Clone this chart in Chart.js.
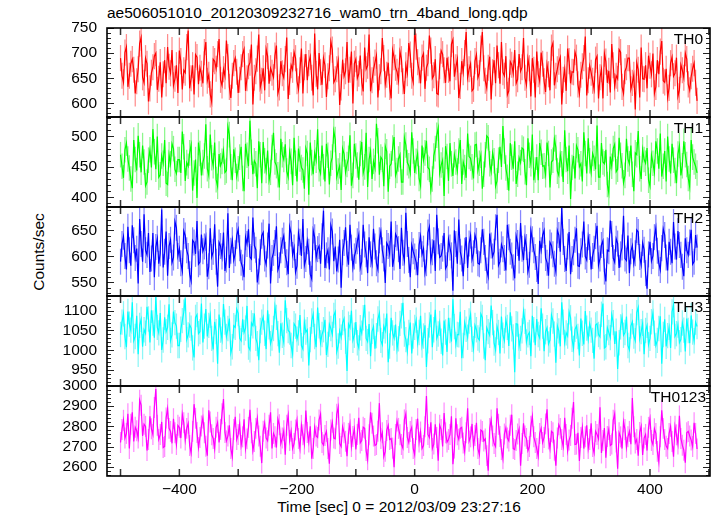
<!DOCTYPE html>
<html><head><meta charset="utf-8">
<script src="https://cdn.jsdelivr.net/npm/chart.js@4/dist/chart.umd.min.js"></script>
<style>
html,body{margin:0;padding:0;background:#fff;}
#wrap{position:relative;width:717px;height:516px;overflow:hidden;font-family:"Liberation Sans",Arial,Helvetica,sans-serif;}
#wrap canvas{position:absolute;left:0;}
.txt{position:absolute;font-size:15.5px;line-height:15.5px;white-space:nowrap;color:#000;}
</style></head><body>
<div id="wrap">
<div class="txt" style="left:107px;top:5px;">ae506051010_20120309232716_wam0_trn_4band_long.qdp</div>
<div class="txt" style="left:39px;top:252px;transform:translate(-50%,-50%) rotate(-90deg);">Counts/sec</div>
<div class="txt" style="left:399px;top:499px;transform:translateX(-50%);">Time [sec] 0 = 2012/03/09 23:27:16</div>
</div>
<script>
// ---- data ----
// bins: "a" values at tStart + k*tStep, "b" values at the half-step in between
const tStart = -500, tStep = 5;
const panelNames = ['TH0', 'TH1', 'TH2', 'TH3', 'TH0123'];
const th0a = [
690,642,712,655,688,620,668,731,641,679,630,672,700,649,612,686,712,660,636,676,
705,628,661,745,650,618,692,671,640,722,657,603,684,698,647,668,725,633,655,690,
621,672,708,650,681,598,664,737,645,626,694,670,652,715,632,660,688,609,676,702,
644,666,620,698,680,651,739,628,662,690,613,670,707,648,685,632,654,722,667,600,
688,659,642,711,675,624,667,695,652,730,638,681,610,692,663,703,644,676,720,655,
748,682,640,699,671,735,650,688,618,705,666,691,644,727,672,611,684,700,652,679,
629,697,660,742,645,671,608,686,715,639,662,694,625,677,706,648,664,730,637,670,
690,612,658,701,644,677,626,720,655,683,598,668,709,640,662,691,619,674,733,646,
661,628,694,652,610,683,665,718,634,649,702,620,672,690,641,588,667,711,648,630,
675,699,633,658,724,642,612,680,654,691,627,666,700,638,654,680,605];
const th0b = [
655,701,633,679,667,644,719,652,690,604,661,694,627,682,658,640,673,706,649,621,
684,666,712,630,676,697,638,659,702,645,618,688,669,728,636,654,692,611,680,663,
647,698,625,674,717,651,689,632,670,708,639,661,695,620,684,651,731,643,667,690,
628,709,672,646,693,616,659,700,637,676,654,723,642,668,597,687,664,641,703,679,
650,695,624,668,737,646,681,612,664,690,657,633,706,671,645,688,619,660,697,642,
713,666,691,629,680,705,656,620,674,698,641,667,718,653,688,635,662,742,668,625,
684,651,709,670,631,693,662,640,676,722,655,617,683,660,640,698,672,651,689,614,
667,703,644,679,623,658,711,636,668,692,647,625,684,663,702,638,657,690,616,675,
645,687,610,668,699,641,622,676,655,707,633,664,690,628,657,681,612,649,676,695,
658,620,686,703,645,669,631,692,660,614,677,651,688,626,669,641];
const th1a = [
470,432,489,448,415,462,501,441,458,425,478,512,446,433,468,494,421,455,480,439,
462,508,427,451,486,440,399,472,457,520,436,465,490,418,452,476,444,503,428,461,
447,483,410,469,526,438,455,492,423,460,477,441,506,452,416,470,487,433,459,498,
426,463,445,481,404,457,473,512,439,450,488,421,466,495,443,412,471,454,502,436,
468,429,491,450,417,476,459,521,437,462,484,409,455,499,444,470,425,486,452,507,
440,472,419,461,493,446,430,480,514,453,402,467,489,435,458,476,422,449,505,464,
431,487,456,414,470,498,442,460,427,483,517,448,411,466,492,438,457,479,420,469,
503,445,428,474,452,490,416,461,482,436,455,510,443,397,468,485,450,426,472,497,
441,464,518,433,458,478,407,451,487,446,469,424,496,455,438,473,509,430,462,481,
418,456,492,447,434,476,500,439,461,423,485,452,470,431,494,458,440];
const th1b = [
451,478,463,430,494,444,470,485,419,461,449,475,500,437,456,423,470,488,446,462,
440,483,457,473,411,462,490,436,468,447,503,452,429,471,459,441,516,450,479,434,
466,431,488,451,474,460,415,470,491,444,428,482,458,437,496,462,443,475,420,456,
480,449,414,472,490,438,461,447,485,426,469,456,509,433,452,480,441,464,419,488,
453,472,440,506,462,430,448,493,466,418,475,451,481,436,463,425,498,457,440,476,
459,431,485,473,449,412,468,502,440,461,484,427,455,470,443,494,458,432,467,450,
486,444,469,438,501,455,473,418,461,450,476,433,489,447,422,465,481,442,497,455,
428,466,489,451,437,472,458,496,443,470,425,462,485,449,431,478,455,507,439,460,
472,446,433,489,455,421,467,480,442,498,452,436,463,485,410,470,447,478,456,428,
469,441,476,505,451,426,463,488,444,471,436,492,454,417,466,451];
const th2a = [
590,638,575,612,660,597,548,624,681,603,570,645,618,586,690,609,563,632,598,655,
615,572,640,601,553,627,668,589,610,636,581,599,662,542,620,646,594,578,631,606,
652,588,560,624,599,675,613,571,640,596,621,548,607,658,583,630,603,566,644,617,
582,628,672,595,609,557,637,614,586,688,602,575,648,619,594,540,626,605,661,579,
611,642,590,623,568,604,653,587,631,612,549,620,667,598,636,576,607,684,593,622,
600,564,639,615,587,657,608,572,629,601,645,583,617,534,624,671,596,611,578,640,
606,630,585,652,597,561,621,609,680,590,614,573,637,602,558,626,664,593,618,584,
633,599,547,612,650,588,627,604,571,641,694,595,619,566,608,654,581,623,600,637,
575,615,659,596,630,552,610,643,589,625,604,678,592,568,621,606,647,584,613,538,
628,601,655,587,616,641,573,609,666,594,622,580,635,603,651,590,617];
const th2b = [
624,601,657,582,631,615,672,590,612,645,596,560,634,606,579,648,620,588,667,601,
587,649,612,566,631,605,585,642,619,561,654,609,590,627,600,572,683,611,593,640,
616,579,637,652,595,621,550,608,646,585,663,597,626,574,612,640,589,657,603,570,
645,601,583,629,566,650,597,620,639,578,612,660,591,571,632,608,656,584,617,600,
629,578,661,604,637,587,619,575,648,596,626,605,580,643,614,655,592,624,560,610,
589,622,604,569,646,592,631,680,598,615,577,633,602,650,586,609,562,637,625,594,
641,587,612,628,573,644,600,656,583,623,597,661,609,579,639,592,615,635,571,650,
612,576,630,641,597,563,621,586,650,609,628,572,647,595,632,582,610,667,593,618,
601,639,583,622,571,612,669,597,634,578,617,596,640,610,587,651,599,626,568,604,
591,637,611,574,653,598,628,587,619,649,603,562,612,627,585,641];
const th3a = [
1040,1092,1008,1066,1121,1035,990,1078,1052,1110,1020,1069,1135,1044,1001,1083,1058,1025,1098,1061,
1012,1075,1131,1039,1056,982,1090,1047,1020,1104,1063,1030,1072,966,1051,1117,1035,1080,1009,1058,
1093,1024,1045,1112,1001,1062,1030,975,1071,1043,1101,1017,1055,1083,994,1038,1126,1050,1012,1067,
1028,1089,1003,1046,962,1074,1035,1108,1019,1052,988,1066,1040,1097,1011,1033,1080,948,1057,1025,
1071,1006,1043,1115,1022,985,1060,1037,1094,1014,1049,970,1082,1031,1003,1068,1120,1027,1045,992,
1058,1019,1087,1036,958,1064,1008,1102,1041,1023,1075,996,1050,1129,1015,1039,980,1070,1033,1091,
1004,1052,1026,1083,975,1047,1113,1018,1060,992,1038,1077,1011,1054,945,1066,1030,1098,1021,1045,
1087,1013,1040,1106,998,1057,1026,1074,969,1049,1121,1020,1036,1082,1005,1061,987,1043,1099,1028,
1051,979,1067,1034,1118,1009,1045,1090,1016,953,1059,1038,1085,1001,1072,1024,1108,1047,990,1063,
1030,1094,1012,1055,966,1078,1037,1006,1115,1042,1019,1069,997,1050,1088,1024,1060];
const th3b = [
1071,1035,1098,1051,1024,1087,1063,1009,1043,1079,1101,1032,1058,1094,1026,1047,1116,1039,1070,1012,
1053,1096,1027,1064,1006,1083,1042,1118,1061,1035,1088,1002,1047,1090,1028,1071,1055,993,1062,1104,
1030,1078,1056,1008,1069,1093,1017,1050,1084,1003,1059,1031,1110,1042,1068,1020,1075,1046,990,1061,
1044,1012,1071,1052,1027,1091,1008,1062,1040,1077,1015,1055,1088,996,1049,1070,1023,1066,1100,1038,
1019,1057,1082,1030,1066,1048,1004,1079,1025,1061,1093,1011,1044,1065,1029,1087,1041,998,1070,1036,
1076,1045,1013,1063,1024,1090,1052,1030,1068,987,1046,1082,1022,1060,1040,1097,1012,1053,1074,1028,
1063,1031,1092,1011,1057,1038,1070,1001,1045,1085,1024,1058,1096,1034,1067,1010,1049,1073,1039,985,
1052,1079,1031,1061,1047,1016,1089,1041,1062,1010,1071,1044,1097,1028,1053,1035,1080,1015,1056,1067,
1025,1064,1040,1091,1006,1057,1032,1070,1048,1019,1083,1045,1012,1061,1036,1095,1029,1068,1050,1014,
1072,1043,1025,1086,1040,1010,1058,1097,1035,1064,1027,1051,1080,1018,1046,1071];
const th0123a = [
2720,2830,2765,2690,2870,2795,2742,2905,2811,2680,2850,2760,2985,2735,2822,2700,2888,2775,2838,2710,
2795,2860,2732,2815,2668,2910,2770,2745,2842,2702,2880,2758,2690,2820,2785,2935,2728,2805,2650,2847,
2760,2705,2835,2738,2882,2680,2790,2752,2618,2815,2729,2870,2765,2695,2808,2742,2660,2855,2776,2715,
2830,2690,2758,2878,2722,2640,2795,2745,2860,2708,2775,2615,2820,2738,2895,2700,2768,2652,2812,2750,
2685,2842,2730,2790,2635,2870,2752,2710,2915,2768,2676,2805,2740,2598,2826,2758,2692,2862,2720,2795,
2660,2838,2772,2705,2950,2745,2690,2810,2630,2785,2866,2722,2760,2612,2840,2736,2795,2675,2890,2748,
2702,2818,2660,2775,2738,2580,2832,2715,2890,2750,2640,2792,2728,2858,2685,2762,2605,2815,2740,2700,
2850,2720,2652,2790,2745,2885,2690,2768,2605,2808,2735,2842,2678,2755,2920,2712,2628,2796,2748,2690,
2815,2668,2760,2895,2730,2645,2785,2712,2862,2590,2748,2822,2696,2775,2940,2718,2655,2800,2742,2680,
2838,2710,2765,2625,2880,2735,2690,2800,2650,2758,2852,2706,2620,2775,2732,2818,2688];
const th0123b = [
2785,2742,2862,2810,2725,2778,2930,2752,2800,2735,2788,2894,2806,2760,2695,2842,2790,2716,2768,2805,
2742,2818,2790,2705,2775,2840,2695,2802,2768,2655,2822,2740,2795,2720,2863,2770,2752,2690,2784,2735,
2812,2748,2690,2795,2768,2725,2840,2702,2776,2742,2805,2690,2748,2836,2714,2778,2805,2730,2690,2782,
2740,2805,2712,2770,2800,2690,2752,2832,2720,2755,2690,2782,2742,2860,2715,2798,2726,2765,2700,2788,
2760,2718,2796,2680,2758,2815,2705,2776,2740,2650,2780,2735,2692,2760,2790,2710,2832,2745,2775,2690,
2785,2722,2690,2798,2760,2820,2712,2745,2805,2700,2768,2735,2850,2692,2758,2790,2718,2768,2726,2812,
2755,2690,2782,2728,2655,2790,2752,2700,2810,2685,2762,2742,2805,2690,2730,2788,2715,2752,2680,2800,
2748,2690,2765,2720,2812,2738,2775,2682,2742,2790,2700,2760,2732,2840,2710,2768,2745,2690,2805,2735,
2700,2775,2738,2668,2792,2750,2705,2830,2722,2768,2690,2785,2748,2712,2798,2735,2770,2658,2760,2795,
2730,2788,2676,2748,2790,2702,2765,2725,2800,2712,2740,2682,2768,2752,2700,2765];
const seriesA = [th0a, th1a, th2a, th3a, th0123a];
const seriesB = [th0b, th1b, th2b, th3b, th0123b];
const yMins = [573, 384, 524, 910, 2554];
const yMaxs = [750, 532, 695, 1137, 3000];
const yLabelSteps = [50, 50, 50, 50, 100];
const yMinorSteps = [10, 10, 10, 10, 20];
const errs = [26, 21, 25, 32, 52];
const xMin = -523, xMax = 502;
const xTickStep = 100, xLabelStep = 200;

// ---- styles / layout ----
const lineColors = ['#ff0000', '#00ff00', '#0000ff', '#00ffff', '#ff00ff'];
const errColors = ['rgba(255,0,0,0.45)', 'rgba(0,235,0,0.45)', 'rgba(0,0,255,0.48)', 'rgba(0,235,235,0.45)', 'rgba(255,0,255,0.45)'];
const panelEdges = [28, 117, 207, 296, 386, 476];
const plotLeft = 107, plotRight = 710, W = 717;
const FONT = '"Liberation Sans", Arial, Helvetica, sans-serif';

Chart.defaults.font.family = FONT;
Chart.defaults.font.size = 15.5;
Chart.defaults.color = '#000';

function stepTicks(min, max, step) {
  const out = [];
  for (let v = Math.ceil(min / step) * step; v <= max + 1e-9; v += step) out.push({value: v});
  return out;
}
function buildPoints(a, b) {
  const pts = [];
  a.forEach((v, k) => {
    pts.push({x: tStart + k * tStep, y: v});
    if (k < b.length) pts.push({x: tStart + k * tStep + tStep / 2, y: b[k]});
  });
  return pts;
}

const panelPlugin = {
  id: 'panel',
  beforeDatasetsDraw(chart, args, o) {
    const {ctx, chartArea: a, scales: {x, y}} = chart;
    const ds = chart.data.datasets[0];
    const bw = Math.max(1, Math.abs(x.getPixelForValue(tStep / 2) - x.getPixelForValue(0)) * 0.85);
    ctx.save();
    ctx.beginPath(); ctx.rect(a.left, a.top, a.right - a.left, a.bottom - a.top); ctx.clip();
    ctx.strokeStyle = o.light; ctx.lineWidth = bw; ctx.lineCap = 'butt';
    for (const p of ds.data) {
      const px = x.getPixelForValue(p.x);
      ctx.beginPath();
      ctx.moveTo(px, y.getPixelForValue(p.y - o.err));
      ctx.lineTo(px, y.getPixelForValue(p.y + o.err));
      ctx.stroke();
    }
    ctx.restore();
  },
  afterDatasetsDraw(chart, args, o) {
    const {ctx, chartArea: a, scales: {x, y}} = chart;
    ctx.save();
    ctx.strokeStyle = '#222'; ctx.lineWidth = 1;
    ctx.beginPath();
    for (let v = Math.ceil(y.min / o.minor) * o.minor; v <= y.max; v += o.minor) {
      const py = Math.round(y.getPixelForValue(v)) + 0.5;
      const len = (v % o.major === 0) ? 7 : 4;
      ctx.moveTo(a.left, py); ctx.lineTo(a.left + len, py);
      ctx.moveTo(a.right, py); ctx.lineTo(a.right - len, py);
    }
    ctx.stroke();
    ctx.lineWidth = 1.5; ctx.strokeStyle = '#333';
    ctx.beginPath();
    for (let v = Math.ceil(x.min / xTickStep) * xTickStep; v <= x.max; v += xTickStep) {
      const px = x.getPixelForValue(v);
      ctx.moveTo(px, a.top); ctx.lineTo(px, a.top + 7);
      ctx.moveTo(px, a.bottom); ctx.lineTo(px, a.bottom - 7);
    }
    ctx.stroke();
    ctx.strokeStyle = '#000'; ctx.lineWidth = 1.6;
    ctx.strokeRect(a.left, a.top, a.right - a.left, a.bottom - a.top);
    ctx.fillStyle = '#000';
    ctx.font = '15.5px ' + FONT;
    ctx.textAlign = 'right'; ctx.textBaseline = 'alphabetic';
    ctx.fillText(o.name, a.right - o.nameInset, a.top + 15.5);
    ctx.restore();
  }
};

const wrap = document.getElementById('wrap');
seriesA.forEach((vals, i) => {
  const last = i === seriesA.length - 1;
  const top = panelEdges[i], bottom = panelEdges[i + 1];
  const padT = 24, padB = last ? 0 : 24, xH = last ? 40 : 0;
  const H = (bottom - top) + padT + padB + xH;
  const cv = document.createElement('canvas');
  cv.width = W; cv.height = H;
  cv.style.width = W + 'px'; cv.style.height = H + 'px';
  cv.style.top = (top - padT) + 'px';
  wrap.appendChild(cv);
  new Chart(cv, {
    type: 'line',
    data: {datasets: [{
      data: buildPoints(vals, seriesB[i]), borderColor: lineColors[i], borderWidth: 1.2,
      pointRadius: 0, tension: 0, fill: false
    }]},
    options: {
      responsive: false, animation: false, devicePixelRatio: 1,
      events: [],
      layout: {padding: {top: padT, bottom: padB, left: 0, right: W - plotRight}},
      plugins: {
        legend: {display: false}, tooltip: {enabled: false}, title: {display: false},
        panel: {
          name: panelNames[i], err: errs[i], light: errColors[i],
          major: yLabelSteps[i], minor: yMinorSteps[i], nameInset: last ? 4 : 7
        }
      },
      scales: {
        x: {
          type: 'linear', min: xMin, max: xMax,
          grid: {display: false, drawTicks: false}, border: {display: false},
          ticks: {display: last, autoSkip: false, maxRotation: 0, padding: 4,
                  callback: v => (v < 0 ? '\u2212' + Math.abs(v) : String(v))},
          afterBuildTicks: s => { s.ticks = stepTicks(xMin, xMax, xLabelStep); },
          afterFit: s => { s.height = xH; }
        },
        y: {
          type: 'linear', min: yMins[i], max: yMaxs[i],
          grid: {display: false, drawTicks: false}, border: {display: false},
          ticks: {autoSkip: false, padding: 10, callback: v => String(v)},
          afterBuildTicks: s => { s.ticks = stepTicks(yMins[i], yMaxs[i], yLabelSteps[i]); },
          afterFit: s => { s.width = plotLeft; }
        }
      }
    },
    plugins: [panelPlugin]
  });
});
</script>
</body></html>
